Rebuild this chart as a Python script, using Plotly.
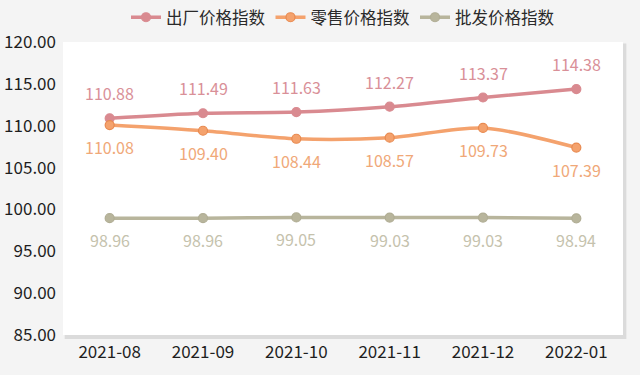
import plotly.graph_objects as go

months = ["2021-08", "2021-09", "2021-10", "2021-11", "2021-12", "2022-01"]
factory = [110.88, 111.49, 111.63, 112.27, 113.37, 114.38]
retail = [110.08, 109.40, 108.44, 108.57, 109.73, 107.39]
wholesale = [98.96, 98.96, 99.05, 99.03, 99.03, 98.94]
names = ["出厂价格指数", "零售价格指数", "批发价格指数"]
y_ticks = [85, 90, 95, 100, 105, 110, 115, 120]

line_colors = ["#d98a90", "#f4a26d", "#b8b59c"]
edge_colors = ["#d98a90", "#e88a50", "#b0ad94"]
label_colors = ["#d99098", "#f0a878", "#c5c2ad"]
label_shift = [25, -22, -22]

font = "Noto Sans CJK SC, Microsoft YaHei, sans-serif"
fig = go.Figure()
for name, vals, lc, ec, tc, sh in zip(names, [factory, retail, wholesale],
                                      line_colors, edge_colors, label_colors, label_shift):
    fig.add_trace(go.Scatter(
        x=months, y=vals, name=name, mode="lines+markers",
        line=dict(color=lc, width=3.5, shape="spline", smoothing=0.8),
        marker=dict(size=9, color=lc, line=dict(color=ec, width=1.2)),
        cliponaxis=False,
    ))
    for m, v in zip(months, vals):
        fig.add_annotation(x=m, y=v, text=f"{v:.2f}", showarrow=False, yshift=sh,
                           font=dict(color=tc, size=16, family=font))

# shadow for plot area
fig.add_shape(type="rect", xref="paper", yref="paper", x0=0.003, x1=1.006, y0=-0.014, y1=0.995,
              fillcolor="rgba(0,0,0,0.10)", line=dict(width=0), layer="below")
fig.add_shape(type="rect", xref="paper", yref="paper", x0=0, x1=1, y0=0, y1=1,
              fillcolor="white", line=dict(width=0), layer="below")

fig.update_layout(
    width=640, height=375,
    margin=dict(l=63, r=17, t=42, b=40, autoexpand=False),
    paper_bgcolor="#f4f4f4", plot_bgcolor="rgba(0,0,0,0)",
    font=dict(family=font, size=17, color="#1e1e1e"),
    showlegend=True,
    legend=dict(orientation="h", x=0.5, xanchor="center", y=1.0, yanchor="top",
                yref="container", font=dict(size=16.5, color="#2a2a2a"),
                tracegroupgap=0),
    xaxis=dict(type="category", range=[-0.5, 5.5], showgrid=False, zeroline=False,
               showline=False, ticks="", ticklabelstandoff=5,
               tickfont=dict(size=17, color="#1e1e1e")),
    yaxis=dict(range=[85, 120], tickvals=y_ticks, ticktext=[f"{v:.2f}" for v in y_ticks],
               showgrid=False, zeroline=False, showline=False, ticks="", ticklabelstandoff=6,
               tickfont=dict(size=17, color="#1e1e1e")),
)
fig.write_html("out.html", config={"displayModeBar": False},
               post_script="document.body.style.margin='0';document.body.style.background='#f4f4f4';")
